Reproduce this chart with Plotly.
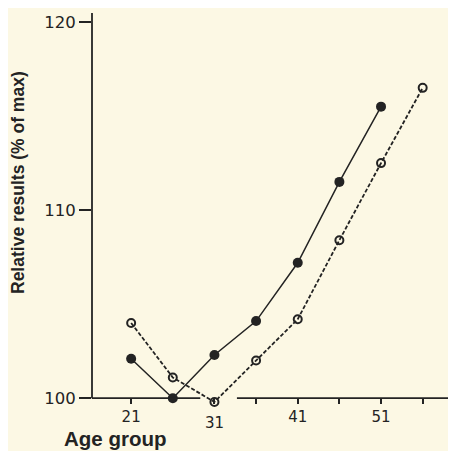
import plotly.graph_objects as go

# Data
solid_x = [21, 26, 31, 36, 41, 46, 51]
solid_y = [102.1, 100.0, 102.3, 104.1, 107.2, 111.5, 115.5]
open_x = [21, 26, 31, 36, 41, 46, 51, 56]
open_y = [104.0, 101.1, 99.8, 102.0, 104.2, 108.4, 112.5, 116.5]
x_tickvals = [21, 31, 36, 41, 46, 51, 56]
x_ticktext = ["21", "", "", "41", "", "51", ""]
y_tickvals = [100, 110, 120]

ink = "#232323"
bg = "#fcf8e4"

# page is offset by 8px body margin -> compensate
W, H = 448, 443
ML, MT, MB = 84, 5, 34
plot_h = H - MT - MB          # 404
plot_w = W - ML               # 364
Y_MIN, Y_MAX = 99.0, 120.48
bottom_screen = 8 + H - MB    # 417
left_screen = 8 + ML          # 92


def px(sx):
    return (sx - left_screen) / plot_w


def py(sy):
    return (bottom_screen - sy) / plot_h


fig = go.Figure()
fig.add_trace(go.Scatter(
    x=open_x, y=open_y, mode="lines+markers",
    line=dict(color=ink, width=1.8, dash="4px,2px"),
    marker=dict(symbol="circle-open", size=8, color=ink, line=dict(width=2)),
    showlegend=False,
))
fig.add_trace(go.Scatter(
    x=solid_x, y=solid_y, mode="lines+markers",
    line=dict(color=ink, width=1.5),
    marker=dict(symbol="circle", size=10, color=ink),
    showlegend=False,
))

# x axis line with a gap (as in the original)
for x0, x1 in [(16.3, 29.3), (33.7, 60.5)]:
    fig.add_shape(type="line", xref="x", yref="y", x0=x0, x1=x1, y0=100, y1=100,
                  line=dict(color=ink, width=1.8))
# y axis line from 100 upwards
fig.add_shape(type="line", xref="paper", yref="y", x0=0, x1=0, y0=100, y1=Y_MAX,
              line=dict(color=ink, width=1.8))

tick_font = dict(color=ink, family="DejaVu Sans")

fig.add_annotation(x=31, y=100, xref="x", yref="y", text="31", showarrow=False,
                   yanchor="top", yshift=-14, font=dict(size=15, **tick_font))
fig.add_annotation(x=px(18), y=py(183), xref="paper", yref="paper",
                   text="<b>Relative results (% of max)</b>", showarrow=False,
                   xanchor="center", yanchor="middle",
                   textangle=-90, font=dict(size=17.5, color=ink))
fig.add_annotation(x=px(62), y=py(438), xref="paper", yref="paper",
                   text="<b>Age group</b>", showarrow=False,
                   xanchor="left", yanchor="middle", font=dict(size=20.5, color=ink))

fig.update_xaxes(range=[16.3, 60], showline=False, showgrid=False, zeroline=False,
                 anchor="free", position=(100 - Y_MIN) / (Y_MAX - Y_MIN),
                 tickvals=x_tickvals, ticktext=x_ticktext, ticks="outside",
                 ticklen=5, tickwidth=1.6, tickcolor=ink,
                 tickfont=dict(size=15, **tick_font))
fig.update_yaxes(range=[Y_MIN, Y_MAX], showline=False,
                 showgrid=False, zeroline=False, tickvals=y_tickvals,
                 ticks="outside", ticklen=12, tickwidth=2, tickcolor=ink,
                 tickfont=dict(size=16.5, **tick_font))

fig.update_layout(
    width=W, height=H,
    margin=dict(l=ML, r=0, t=MT, b=MB),
    paper_bgcolor=bg, plot_bgcolor=bg,
    font=dict(family="Liberation Sans, Arial", color=ink),
)

fig.write_html("out.html")
